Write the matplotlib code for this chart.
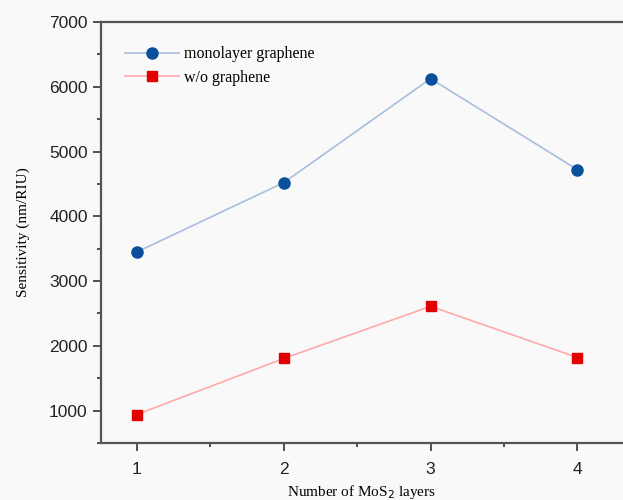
import matplotlib
matplotlib.use("Agg")
import matplotlib.pyplot as plt
from matplotlib.ticker import MultipleLocator

layers = [1, 2, 3, 4]
mono_graphene = [3450, 4520, 6125, 4720]
wo_graphene = [940, 1805, 2610, 1820]

fig = plt.figure(figsize=(6.23, 5.0), dpi=100, facecolor="#f9f9f9")
ax = fig.add_axes([0.162, 0.114, 0.838, 0.842], facecolor="#f9f9f9")

ax.plot(layers, mono_graphene, color="#a9bedc", lw=1.2, marker="o", ms=8,
        mfc="#0a4f9c", mec="#0a4f9c", label="monolayer graphene")
ax.plot(layers, wo_graphene, color="#ffaaaa", lw=1.2, marker="s", ms=7,
        mfc="#e30000", mec="#e30000", label="w/o graphene")

ax.set_xlim(0.755, 4.31)
ax.set_ylim(500, 7000)
ax.set_xticks(layers)
ax.xaxis.set_minor_locator(MultipleLocator(0.5))
ax.yaxis.set_major_locator(MultipleLocator(1000))
ax.yaxis.set_minor_locator(MultipleLocator(500))
ax.tick_params(which="both", direction="out", width=1.2, color="#333333")
ax.tick_params(which="major", length=6, labelsize=12.5)
ax.tick_params(axis="x", which="major", pad=8)
ax.tick_params(which="minor", length=3)
for lab in ax.get_xticklabels() + ax.get_yticklabels():
    lab.set_family("Liberation Sans")
    lab.set_color("#222222")

for s in ("left", "bottom", "top"):
    ax.spines[s].set_linewidth(1.6)
    ax.spines[s].set_color("#555555")
ax.spines["right"].set_visible(False)

ax.set_xlabel("Number of MoS$_2$ layers", family="Liberation Serif", fontsize=11,
              labelpad=4)
ax.set_ylabel("Sensitivity (nm/RIU)", family="Liberation Serif", fontsize=11,
              labelpad=14)

leg = ax.legend(loc="upper left", frameon=False, prop={"family": "Liberation Serif", "size": 11.5},
                handlelength=3.4, handletextpad=0.3, bbox_to_anchor=(0.015, 0.98),
                borderaxespad=0.6, labelspacing=0.45)

fig.savefig("out.png", dpi=100, facecolor=fig.get_facecolor())
